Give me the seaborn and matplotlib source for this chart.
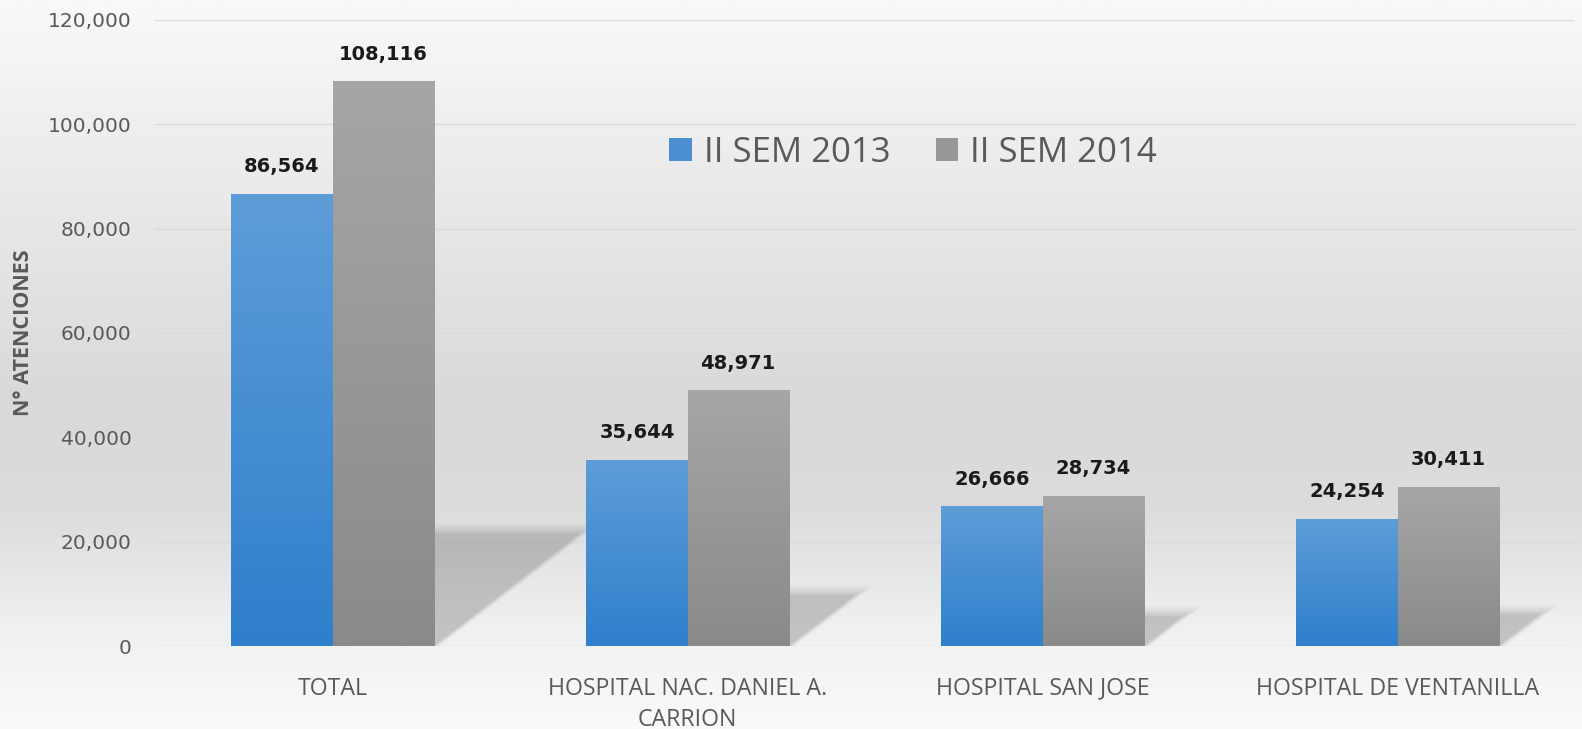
import numpy as np
import pandas as pd
import matplotlib
matplotlib.use("Agg")
import matplotlib.pyplot as plt
import seaborn as sns
from matplotlib.colors import LinearSegmentedColormap
from matplotlib.patches import Polygon, Patch

# ---------------- data ----------------
categories = ["TOTAL", "HOSPITAL NAC. DANIEL A.\nCARRION", "HOSPITAL SAN JOSE", "HOSPITAL DE VENTANILLA"]
series = ["II SEM 2013", "II SEM 2014"]
vals_2013 = [86564, 35644, 26666, 24254]
vals_2014 = [108116, 48971, 28734, 30411]
yticks = [0, 20000, 40000, 60000, 80000, 100000, 120000]
ylabel = "N° ATENCIONES"

sns.set_theme(style="white")
plt.rcParams["font.family"] = ["Open Sans", "DejaVu Sans"]

W, H = 1582, 729
fig = plt.figure(figsize=(W / 100, H / 100), dpi=100)

# background gradient (light top/bottom, darker middle)
bg = fig.add_axes([0, 0, 1, 1], zorder=-10)
bg.axis("off")
bg_cmap = LinearSegmentedColormap.from_list(
    "bg", [(0.0, "#f9f9f9"), (0.12, "#f2f2f2"), (0.55, "#d9d9d9"), (0.70, "#dcdcdc"),
           (0.86, "#f0f0f0"), (1.0, "#fafafa")])
bg.imshow(np.linspace(0, 1, 256).reshape(-1, 1), cmap=bg_cmap, aspect="auto",
          extent=[0, 1, 0, 1], origin="upper")
bg.set_xlim(0, 1)
bg.set_ylim(0, 1)

left, right, top, bottom = 155, 1575, 20, 646
ax = fig.add_axes([left / W, (H - bottom) / H, (right - left) / W, (bottom - top) / H])
ax.patch.set_alpha(0)

df = pd.DataFrame({
    "cat": categories * 2,
    "val": vals_2013 + vals_2014,
    "serie": [series[0]] * 4 + [series[1]] * 4,
})
colors = ["#5b9bd5", "#a5a5a5"]
sns.barplot(data=df, x="cat", y="val", hue="serie", palette=colors, width=0.57,
            saturation=1, ax=ax, legend=False, errorbar=None)

ax.set_ylim(0, 120000)
ax.set_xlim(-0.5, 3.5)

grads = [LinearSegmentedColormap.from_list("b", ["#5d9dd8", "#2f7fcc"]),
         LinearSegmentedColormap.from_list("g", ["#a6a6a6", "#8a8a8a"])]
grad = np.linspace(0, 1, 256).reshape(-1, 1)

bars = list(ax.patches)
n = len(categories)
px_x = 4.0 / (right - left)
px_y = 120000.0 / (bottom - top)
for i, p in enumerate(bars):
    s = i // n
    x0, w, h = p.get_x(), p.get_width(), p.get_height()
    ax.imshow(grad, cmap=grads[s], aspect="auto", extent=[x0, x0 + w, 0, h],
              origin="upper", zorder=3)
    p.set_visible(False)
    ax.text(x0 + w / 2, h + 18 * px_y, f"{int(h):,}", ha="center", va="bottom",
            fontsize=14, fontweight="bold", color="#1a1a1a", family="DejaVu Sans", zorder=5)

# soft perspective shadows behind each group
for j in range(n):
    b1, b2 = bars[j], bars[n + j]
    xa = b1.get_x()
    xb = b2.get_x() + b2.get_width()
    hh = max(b1.get_height(), b2.get_height())
    hpx = hh / px_y
    dx = 0.26 * hpx * px_x
    dy = 0.2 * hh
    for k, a in enumerate([0.04, 0.05, 0.06, 0.08, 0.1, 0.12]):
        sh = (5 - k) * 4
        poly = Polygon([(xa, 0), (xb + sh * px_x * 0.3, 0),
                        (xb + dx + sh * px_x, dy + sh * px_y * 0.5),
                        (xa + dx - sh * px_x, dy + sh * px_y * 0.5)],
                       closed=True, facecolor="#7a7a7a", edgecolor="none", alpha=a, zorder=1)
        ax.add_patch(poly)

ax.set_xlim(-0.5, 3.5)
ax.set_ylim(0, 120000)

ax.set_yticks(yticks)
ax.set_yticklabels([f"{v:,}" for v in yticks], fontsize=14.5, color="#595959", family="DejaVu Sans")
ax.yaxis.grid(True, color="#d9d9d9", linewidth=1)
ax.set_axisbelow(True)
for sp in ax.spines.values():
    sp.set_visible(False)
ax.tick_params(axis="y", length=0, pad=17)
ax.tick_params(axis="x", length=0, pad=22)
ax.set_xticks(range(n))
ax.set_xticklabels(categories, fontsize=16.7, color="#595959", family="Open Sans",
                   linespacing=1.4)
ax.set_xlabel("")
ax.set_ylabel(ylabel, fontsize=15.5, color="#595959", fontweight="bold", family="Open Sans")
ax.yaxis.set_label_coords((34 - left) / (right - left), 0.5)

handles = [Patch(facecolor="#4a8fd2", edgecolor="none"), Patch(facecolor="#989898", edgecolor="none")]
fig.legend(handles, series, loc="center", bbox_to_anchor=(913 / W, 1 - 153 / H), ncol=2,
           frameon=False, fontsize=25, handlelength=0.65, handleheight=0.65,
           handletextpad=0.35, columnspacing=1.3, labelcolor="#595959")

fig.savefig("out.png", dpi=100)
